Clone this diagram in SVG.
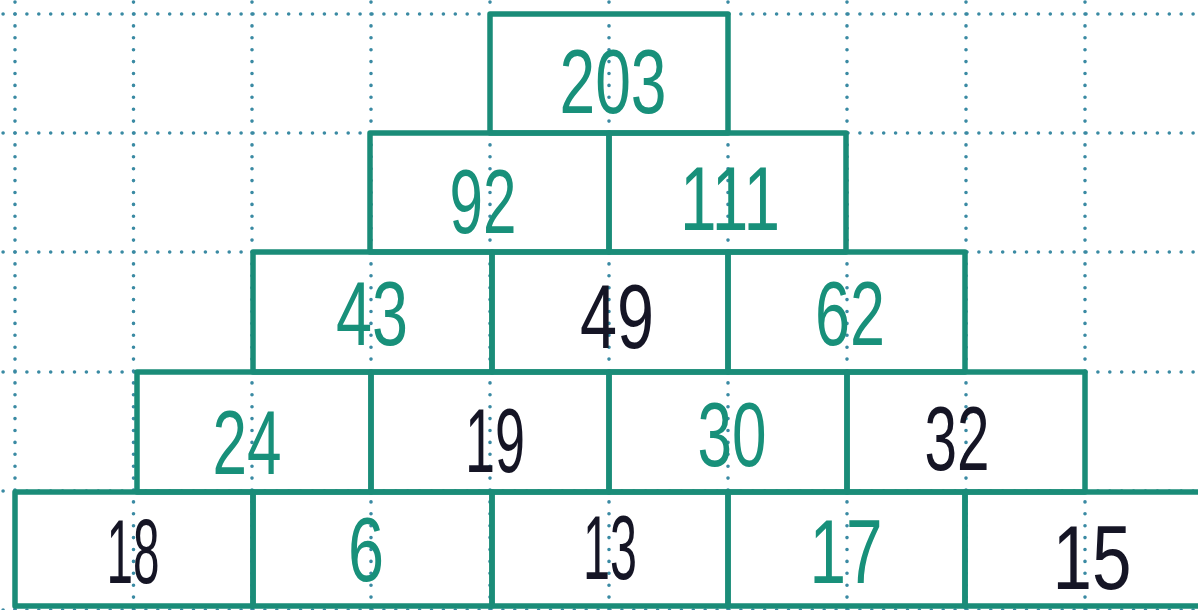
<svg xmlns="http://www.w3.org/2000/svg" width="1198" height="610" viewBox="0 0 1198 610">
<style>
.dot{stroke:#3a8aa3;stroke-width:3.6;stroke-linecap:round;stroke-dasharray:0 11.9;fill:none}
.cell{fill:none;stroke:#1a8c78;stroke-width:5.5;stroke-linejoin:round}
.n{font-family:"Liberation Sans",Arial,sans-serif;text-anchor:middle;font-size:90px}
.g{fill:#18907a}
.k{fill:#151525}
</style>
<rect width="1198" height="610" fill="#ffffff"/>
<g id="grid">
<path class="dot" d="M3.1 14H1198M3.1 133H1198M3.1 252H1198M3.1 372H1198M3.1 491H1198M3.1 610H1198"/>
<path class="dot" d="M15 2.1V610M133.5 2.1V610M252 2.1V610M371 2.1V610M490 2.1V610M609 2.1V610M728 2.1V610M847 2.1V610M966 2.1V610M1085 2.1V610"/>
</g>
<g id="connectors"></g>
<g id="c203"><rect class="cell" x="490" y="14" width="238" height="119"/><text class="n g" x="613" y="113" font-size="97" textLength="107" lengthAdjust="spacingAndGlyphs">203</text></g>
<g id="c92"><rect class="cell" x="370" y="133" width="239" height="119"/><text class="n g" x="483" y="233" textLength="67" lengthAdjust="spacingAndGlyphs">92</text></g>
<g id="c111"><rect class="cell" x="609" y="133" width="237" height="119"/><text class="n g" x="730" y="230" textLength="100" lengthAdjust="spacingAndGlyphs">111</text></g>
<g id="c43"><rect class="cell" x="253" y="252" width="239" height="120"/><text class="n g" x="372" y="345" textLength="72" lengthAdjust="spacingAndGlyphs">43</text></g>
<g id="c49"><rect class="cell" x="492" y="252" width="236" height="120"/><text class="n k" x="617" y="348" textLength="74" lengthAdjust="spacingAndGlyphs">49</text></g>
<g id="c62"><rect class="cell" x="728" y="252" width="237" height="120"/><text class="n g" x="850" y="345" textLength="70" lengthAdjust="spacingAndGlyphs">62</text></g>
<g id="c24"><rect class="cell" x="137" y="372" width="234" height="120"/><text class="n g" x="247" y="474" textLength="69" lengthAdjust="spacingAndGlyphs">24</text></g>
<g id="c19"><rect class="cell" x="371" y="372" width="238" height="120"/><text class="n k" x="495" y="472" textLength="60" lengthAdjust="spacingAndGlyphs">19</text></g>
<g id="c30"><rect class="cell" x="609" y="372" width="238" height="120"/><text class="n g" x="732" y="466" textLength="69" lengthAdjust="spacingAndGlyphs">30</text></g>
<g id="c32"><rect class="cell" x="847" y="372" width="238" height="120"/><text class="n k" x="957" y="470" textLength="65" lengthAdjust="spacingAndGlyphs">32</text></g>
<g id="c18"><rect class="cell" x="15" y="492" width="238" height="114"/><text class="n k" x="133" y="583" textLength="53" lengthAdjust="spacingAndGlyphs">18</text></g>
<g id="c6"><rect class="cell" x="253" y="492" width="239" height="114"/><text class="n g" x="366" y="581" textLength="36" lengthAdjust="spacingAndGlyphs">6</text></g>
<g id="c13"><rect class="cell" x="492" y="492" width="236" height="114"/><text class="n k" x="610" y="579" textLength="54" lengthAdjust="spacingAndGlyphs">13</text></g>
<g id="c17"><rect class="cell" x="728" y="492" width="237" height="114"/><text class="n g" x="846" y="583" textLength="73" lengthAdjust="spacingAndGlyphs">17</text></g>
<g id="c15"><rect class="cell" x="965" y="492" width="240" height="114"/><text class="n k" x="1092" y="589" textLength="79" lengthAdjust="spacingAndGlyphs">15</text></g>
</svg>
